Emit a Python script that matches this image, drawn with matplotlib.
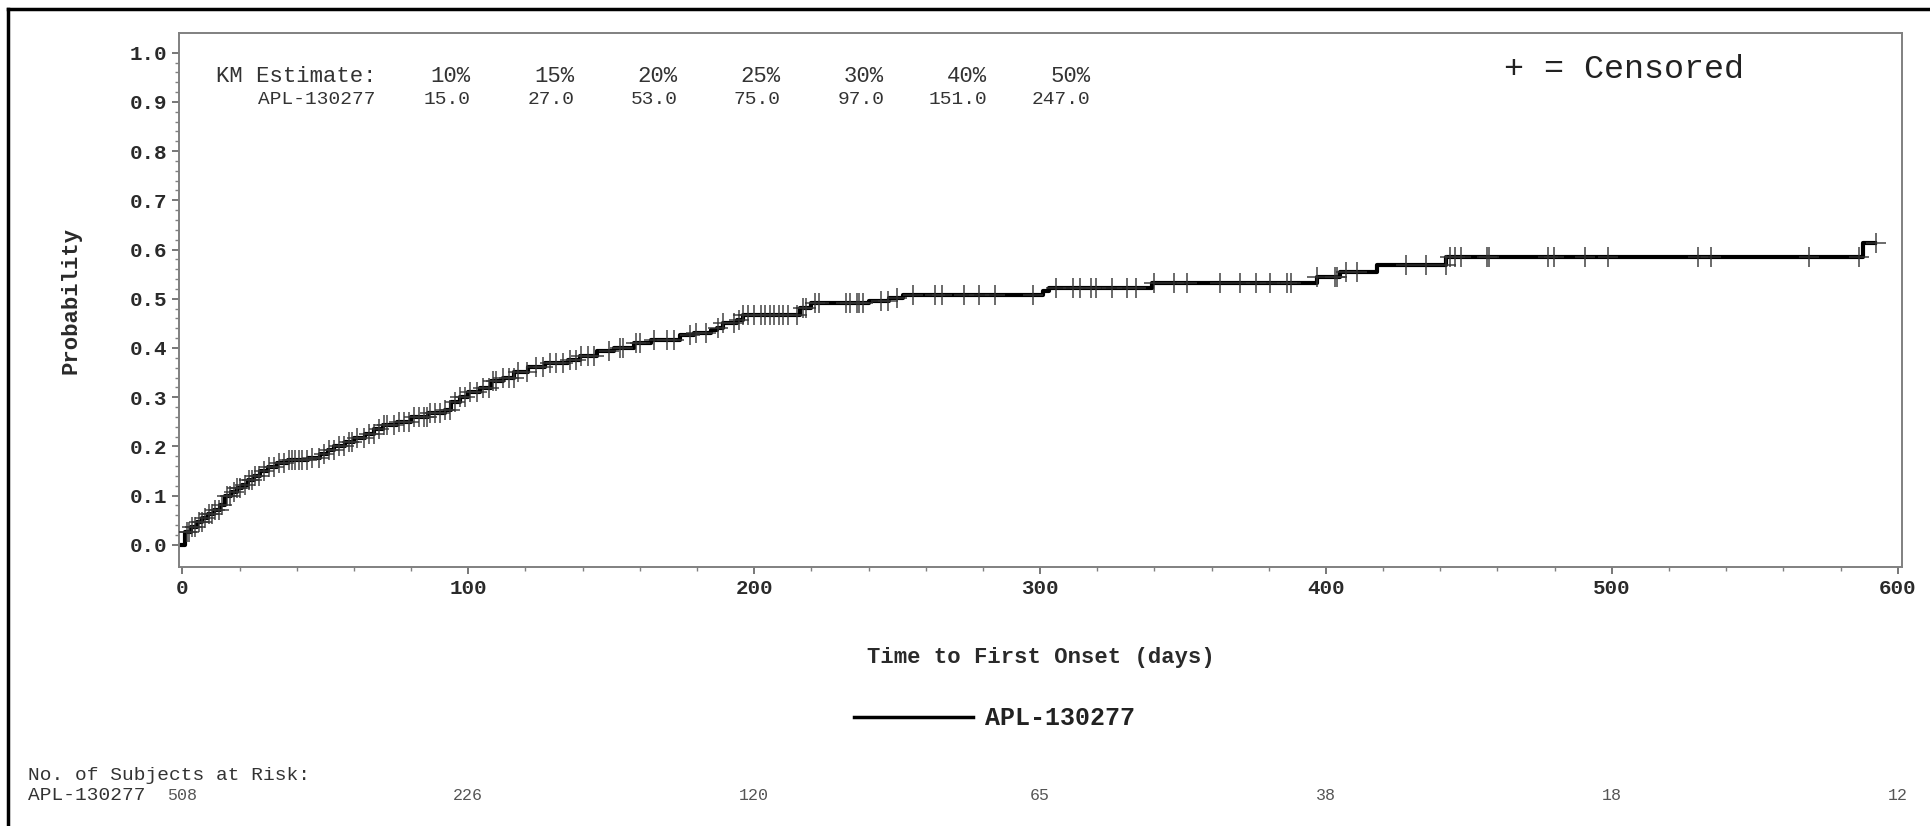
import numpy as np
import matplotlib
matplotlib.use("Agg")
import matplotlib.pyplot as plt
from matplotlib.lines import Line2D
from matplotlib.ticker import MultipleLocator

# ---- data ----
group = "APL-130277"

# Kaplan-Meier cumulative incidence: day of event -> probability after the step
event_days = [1, 3, 5, 7, 9, 11, 13, 15, 17, 19, 21, 23, 25, 27, 30, 33, 37, 44,
              48, 51, 53, 57, 60, 64, 67, 70, 75, 80, 86, 92, 94, 97, 100, 104,
              108, 112, 116, 121, 127, 135, 139, 145, 151, 158, 164, 174, 179,
              185, 187, 189, 194, 196, 216, 220, 240, 247, 252, 301, 303, 339,
              397, 405, 418, 442, 588]
event_prob = [0.027, 0.037, 0.047, 0.055, 0.063, 0.070, 0.080, 0.100, 0.108,
              0.115, 0.122, 0.132, 0.140, 0.150, 0.158, 0.166, 0.172, 0.177,
              0.185, 0.192, 0.200, 0.208, 0.217, 0.226, 0.235, 0.244, 0.250,
              0.260, 0.268, 0.275, 0.290, 0.300, 0.310, 0.319, 0.332, 0.340,
              0.352, 0.362, 0.369, 0.376, 0.383, 0.393, 0.400, 0.410, 0.417,
              0.427, 0.430, 0.437, 0.441, 0.450, 0.457, 0.467, 0.482, 0.491,
              0.495, 0.502, 0.508, 0.515, 0.522, 0.532, 0.545, 0.555, 0.569,
              0.585, 0.613]
last_day = 592

censor_days = [1.5, 2.2, 3.4, 4.5, 5.7, 6.9, 8.0, 9.2, 10.4, 11.5, 12.7, 13.9,
               15.6, 16.8, 17.9, 19.1, 20.3, 22.0, 23.2, 24.3, 25.5, 26.7, 28.4,
               30.2, 31.9, 33.7, 35.4, 37.2, 38.3, 39.5, 40.7, 41.8, 43.6, 45.3,
               47.6, 49.4, 51.1, 52.9, 54.6, 56.4, 58.1, 59.3, 61.0, 63.4, 65.1,
               66.9, 68.6, 70.4, 71.5, 73.9, 75.6, 77.4, 79.1, 80.9, 82.6, 84.4,
               85.5, 86.7, 88.4, 90.2, 92.0, 93.7, 95.4, 97.2, 99.0, 100.7, 103.0,
               105.3, 107.1, 108.8, 109.7, 112.0, 114.4, 115.9, 117.5, 120.6,
               123.7, 126.1, 128.4, 130.8, 133.1, 135.4, 137.8, 139.3, 141.7,
               144.0, 149.3, 153.2, 154.0, 158.6, 160.2, 164.9, 169.6, 171.9,
               177.4, 179.7, 183.3, 187.5, 189.1, 193.0, 194.6, 196.1, 197.7,
               200.0, 202.3, 203.9, 205.5, 207.0, 208.6, 210.2, 211.7, 214.8,
               217.2, 218.0, 221.1, 222.7, 232.0, 233.6, 235.9, 236.7, 238.2,
               244.5, 246.9, 250.0, 255.4, 263.3, 265.6, 273.4, 278.8, 284.3,
               297.6, 305.4, 311.6, 314.0, 317.9, 319.4, 325.0, 330.3, 333.5,
               339.7, 346.7, 351.4, 363.1, 370.1, 375.6, 380.3, 386.5, 387.8,
               397.0, 403.0, 403.8, 406.9, 410.7, 428.1, 435.0, 441.9, 443.4,
               445.2, 447.2, 456.3, 457.0, 477.6, 479.8, 490.5, 498.8, 530.0,
               534.6, 568.8, 586.3, 592.3]

km_pcts = ["10%", "15%", "20%", "25%", "30%", "40%", "50%"]
km_days = [15.0, 27.0, 53.0, 75.0, 97.0, 151.0, 247.0]

risk_days = [0, 100, 200, 300, 400, 500, 600]
risk_counts = [508, 226, 120, 65, 38, 18, 12]

# ---- layout (pixels of the 1931x826 canvas) ----
W, H = 1931, 826
MONO = "Liberation Mono"


def fx(px):
    return px / W


def fy(py):
    return 1 - py / H


fig = plt.figure(figsize=(W / 100, H / 100), dpi=100)
fig.patch.set_facecolor("white")

ax_l, ax_r, ax_t, ax_b = 179, 1902, 33, 567
ax = fig.add_axes([fx(ax_l), fy(ax_b), (ax_r - ax_l) / W, (ax_b - ax_t) / H])

# step curve
xs = [0] + event_days + [last_day]
ys = [0] + event_prob + [event_prob[-1]]
ax.step(xs, ys, where="post", color="black", lw=3.0, zorder=3)

# censor marks sit on the curve
days_all = np.array([0] + event_days)
prob_all = np.array([0] + event_prob)
idx = np.searchsorted(days_all, censor_days, side="right") - 1
ax.plot(censor_days, prob_all[idx], ls="none", marker="+", ms=14, mew=1.2,
        color="#333333", alpha=0.85, zorder=4)

ax.set_xlim(-1.2, 601.5)
ax.set_ylim(-0.045, 1.04)
ax.set_xticks(risk_days)
ax.xaxis.set_minor_locator(MultipleLocator(20))
ax.set_yticks(np.round(np.arange(0, 1.01, 0.1), 1))
ax.set_yticks(np.arange(0, 1.001, 0.02), minor=True)
ax.set_yticklabels([f"{v:.1f}" for v in np.arange(0, 1.01, 0.1)])

for sp in ax.spines.values():
    sp.set_color("#808080")
    sp.set_linewidth(1.4)
ax.tick_params(which="major", length=5, width=1.2, color="#606060", pad=3.5)
ax.tick_params(which="minor", length=3, width=1.0, color="#808080")
for lab in ax.get_xticklabels() + ax.get_yticklabels():
    lab.set_fontfamily(MONO)
    lab.set_fontweight("bold")
    lab.set_fontsize(15)
    lab.set_color("#2a2a2a")

# axis titles
fig.text(fx(71), fy(300), "Probability", rotation=90, ha="center", va="center",
         family=MONO, weight="bold", fontsize=16, color="#2a2a2a")
fig.text(fx((ax_l + ax_r) / 2), fy(657), "Time to First Onset (days)",
         ha="center", va="center", family=MONO, weight="bold", fontsize=16,
         color="#2a2a2a")

# KM estimate table
fig.text(fx(216), fy(77), "KM Estimate:", ha="left", va="center", family=MONO,
         fontsize=16, color="#333333")
fig.text(fx(376), fy(99), group, ha="right", va="center", family=MONO,
         fontsize=14, color="#333333")
for i, (p, d) in enumerate(zip(km_pcts, km_days)):
    xr = 471 + i * 103.3
    fig.text(fx(xr), fy(77), p, ha="right", va="center", family=MONO,
             fontsize=16, color="#333333")
    fig.text(fx(xr), fy(99), f"{d:.1f}", ha="right", va="center", family=MONO,
             fontsize=14, color="#333333")

fig.text(fx(1504), fy(70), "+ = Censored", ha="left", va="center", family=MONO,
         fontsize=24, color="#222222")

# legend
fig.add_artist(Line2D([fx(854), fx(973)], [fy(717), fy(717)], color="black", lw=2.5))
fig.text(fx(985), fy(718), group, ha="left", va="center", family=MONO,
         weight="bold", fontsize=18, color="#222222")

# subjects at risk
fig.text(fx(28), fy(775), "No. of Subjects at Risk:", ha="left", va="center",
         family=MONO, fontsize=14, color="#333333")
fig.text(fx(28), fy(796), group, ha="left", va="center", family=MONO,
         fontsize=14, color="#333333")
for d, n in zip(risk_days, risk_counts):
    xp = ax.transData.transform((d, 0))[0]
    fig.text(xp / W, fy(796), str(n), ha="center", va="center", family=MONO,
             fontsize=12, color="#555555")

# outer page border (top and left edges visible)
fig.add_artist(Line2D([fx(8), 1], [fy(9), fy(9)], color="black", lw=2.5))
fig.add_artist(Line2D([fx(8), fx(8)], [fy(9), 0], color="black", lw=2.5))

fig.savefig("out.png", dpi=100)
plt.close(fig)
